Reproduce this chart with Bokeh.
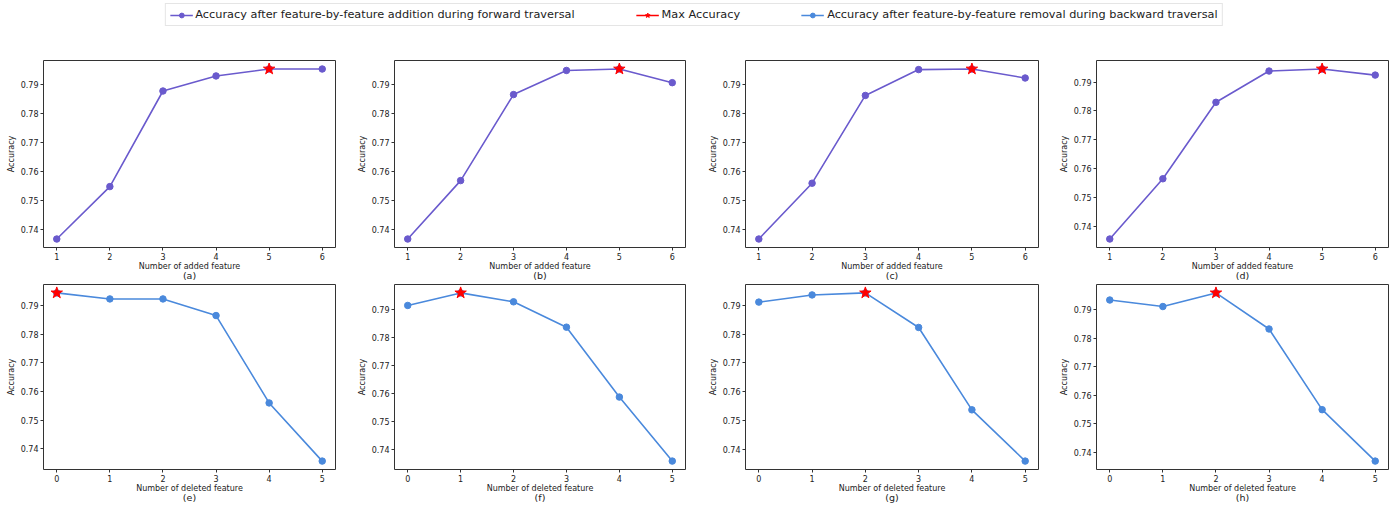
import numpy as np
from bokeh.plotting import figure
from bokeh.layouts import column, row
from bokeh.models import (Legend, LegendItem, LinearAxis, FixedTicker, PrintfTickFormatter,
                          Range1d, ColumnDataSource)
from bokeh.embed import file_html
from bokeh.resources import INLINE

FONT = "DejaVu Sans"

fwd_x = [1, 2, 3, 4, 5, 6]
fwd_a = [0.7367, 0.7548, 0.7878, 0.7930, 0.7954, 0.7954]
fwd_b = [0.7367, 0.7568, 0.7864, 0.7947, 0.7952, 0.7905]
fwd_c = [0.7367, 0.7559, 0.7861, 0.7950, 0.7952, 0.7921]
fwd_d = [0.7358, 0.7566, 0.7830, 0.7938, 0.7945, 0.7924]

bwd_x = [0, 1, 2, 3, 4, 5]
bwd_e = [0.7944, 0.7923, 0.7923, 0.7865, 0.7560, 0.7357]
bwd_f = [0.7916, 0.7961, 0.7929, 0.7838, 0.7587, 0.7357]
bwd_g = [0.7911, 0.7936, 0.7943, 0.7823, 0.7537, 0.7359]
bwd_h = [0.7935, 0.7912, 0.7960, 0.7833, 0.7549, 0.7368]

y_ticks = [0.74, 0.75, 0.76, 0.77, 0.78, 0.79]
top_labels = ["(a)", "(b)", "(c)", "(d)"]
bot_labels = ["(e)", "(f)", "(g)", "(h)"]

FWD_COLOR = "#6A5ACD"
BWD_COLOR = "#4A89DC"
STAR_COLOR = "red"

LEG1 = "Accuracy after feature-by-feature addition during forward traversal"
LEG2 = "Max Accuracy"
LEG3 = "Accuracy after feature-by-feature removal during backward traversal"

frame_w = [292, 291, 293, 292]
right_b = [16, 17, 15, 8]
LEFT_B = 43


def panel(xs, ys, color, xlabel, caption, fw, rb, fh, top):
    ymin, ymax = min(ys), max(ys)
    pad = (ymax - ymin) * 0.05
    p = figure(frame_width=fw, frame_height=fh, output_backend="svg", toolbar_location=None,
               x_range=Range1d(xs[0] - 0.25, xs[-1] + 0.25),
               y_range=Range1d(ymin - pad, ymax + pad),
               min_border_left=LEFT_B, min_border_right=rb, min_border_top=top,
               min_border_bottom=30)
    p.line(xs, ys, line_color=color, line_width=1.6)
    p.scatter(xs, ys, size=6.5, fill_color=color, line_color=color)
    i = int(np.argmax(ys))
    p.scatter([xs[i]], [ys[i]], marker="star", size=12, fill_color=STAR_COLOR,
              line_color=STAR_COLOR)
    p.xgrid.visible = False
    p.ygrid.visible = False
    p.outline_line_color = "#333333"
    p.outline_line_width = 1
    p.background_fill_color = "white"
    p.border_fill_color = "white"
    p.xaxis.ticker = FixedTicker(ticks=xs)
    p.yaxis.ticker = FixedTicker(ticks=y_ticks)
    p.yaxis.formatter = PrintfTickFormatter(format="%.2f")
    for ax in (p.xaxis[0], p.yaxis[0]):
        ax.axis_line_color = None
        ax.major_tick_in = 0
        ax.major_tick_out = 3
        ax.minor_tick_line_color = None
        ax.major_tick_line_color = "#333333"
        ax.major_label_text_font = FONT
        ax.major_label_text_font_size = "8px"
        ax.major_label_text_color = "#222222"
        ax.major_label_standoff = 2
        ax.axis_label_text_font = FONT
        ax.axis_label_text_font_size = "8px"
        ax.axis_label_text_font_style = "normal"
        ax.axis_label_text_color = "#222222"
        ax.axis_label_standoff = 2
    p.xaxis.axis_label_standoff = -1
    p.xaxis.axis_label = xlabel
    p.yaxis.axis_label = "Accuracy"
    cap = LinearAxis(ticker=FixedTicker(ticks=[]), axis_label=caption,
                     axis_line_color=None, major_tick_line_color=None,
                     minor_tick_line_color=None, major_tick_in=0, major_tick_out=0,
                     major_label_text_font_size="0px", major_label_standoff=0,
                     axis_label_standoff=-4, axis_label_text_font=FONT,
                     axis_label_text_font_size="9.5px", axis_label_text_font_style="normal",
                     axis_label_text_color="#222222")
    p.add_layout(cap, "below")
    return p


top_data = [fwd_a, fwd_b, fwd_c, fwd_d]
bot_data = [bwd_e, bwd_f, bwd_g, bwd_h]

top_row = [panel(fwd_x, d, FWD_COLOR, "Number of added feature", top_labels[k],
                 frame_w[k], right_b[k], 187, 30) for k, d in enumerate(top_data)]
bot_row = [panel(bwd_x, d, BWD_COLOR, "Number of deleted feature", bot_labels[k],
                 frame_w[k], right_b[k], 185, 1) for k, d in enumerate(bot_data)]

# legend strip
lg = figure(width=1387, height=30, output_backend="svg", toolbar_location=None,
            x_range=Range1d(0, 1), y_range=Range1d(0, 1), min_border=0)
lg.axis.visible = False
lg.grid.visible = False
lg.outline_line_color = None


def src():
    return ColumnDataSource(dict(x=[-5.0, -4.0], y=[-5.0, -4.0]))


r1l = lg.line("x", "y", source=src(), line_color=FWD_COLOR, line_width=1.6)
r1m = lg.scatter("x", "y", source=src(), size=6, fill_color=FWD_COLOR, line_color=FWD_COLOR)
r2l = lg.line("x", "y", source=src(), line_color=STAR_COLOR, line_width=1.6)
r2m = lg.scatter("x", "y", source=src(), marker="star", size=10,
                 fill_color=STAR_COLOR, line_color=STAR_COLOR)
r3l = lg.line("x", "y", source=src(), line_color=BWD_COLOR, line_width=1.6)
r3m = lg.scatter("x", "y", source=src(), size=6, fill_color=BWD_COLOR, line_color=BWD_COLOR)
legend = Legend(items=[LegendItem(label=LEG1, renderers=[r1l, r1m]),
                       LegendItem(label=LEG2, renderers=[r2l, r2m]),
                       LegendItem(label=LEG3, renderers=[r3l, r3m])],
                orientation="horizontal", location="top_center",
                label_text_font=FONT, label_text_font_size="11.3px",
                label_text_color="#222222", glyph_width=23, glyph_height=12,
                label_standoff=3, spacing=61, padding=4, margin=3,
                border_line_color="#cccccc", border_line_width=1,
                label_height=12, background_fill_alpha=1.0)
lg.add_layout(legend, "center")

layout = column(lg, row(*top_row), row(*bot_row))
open("out.html", "w").write(file_html(layout, INLINE))
